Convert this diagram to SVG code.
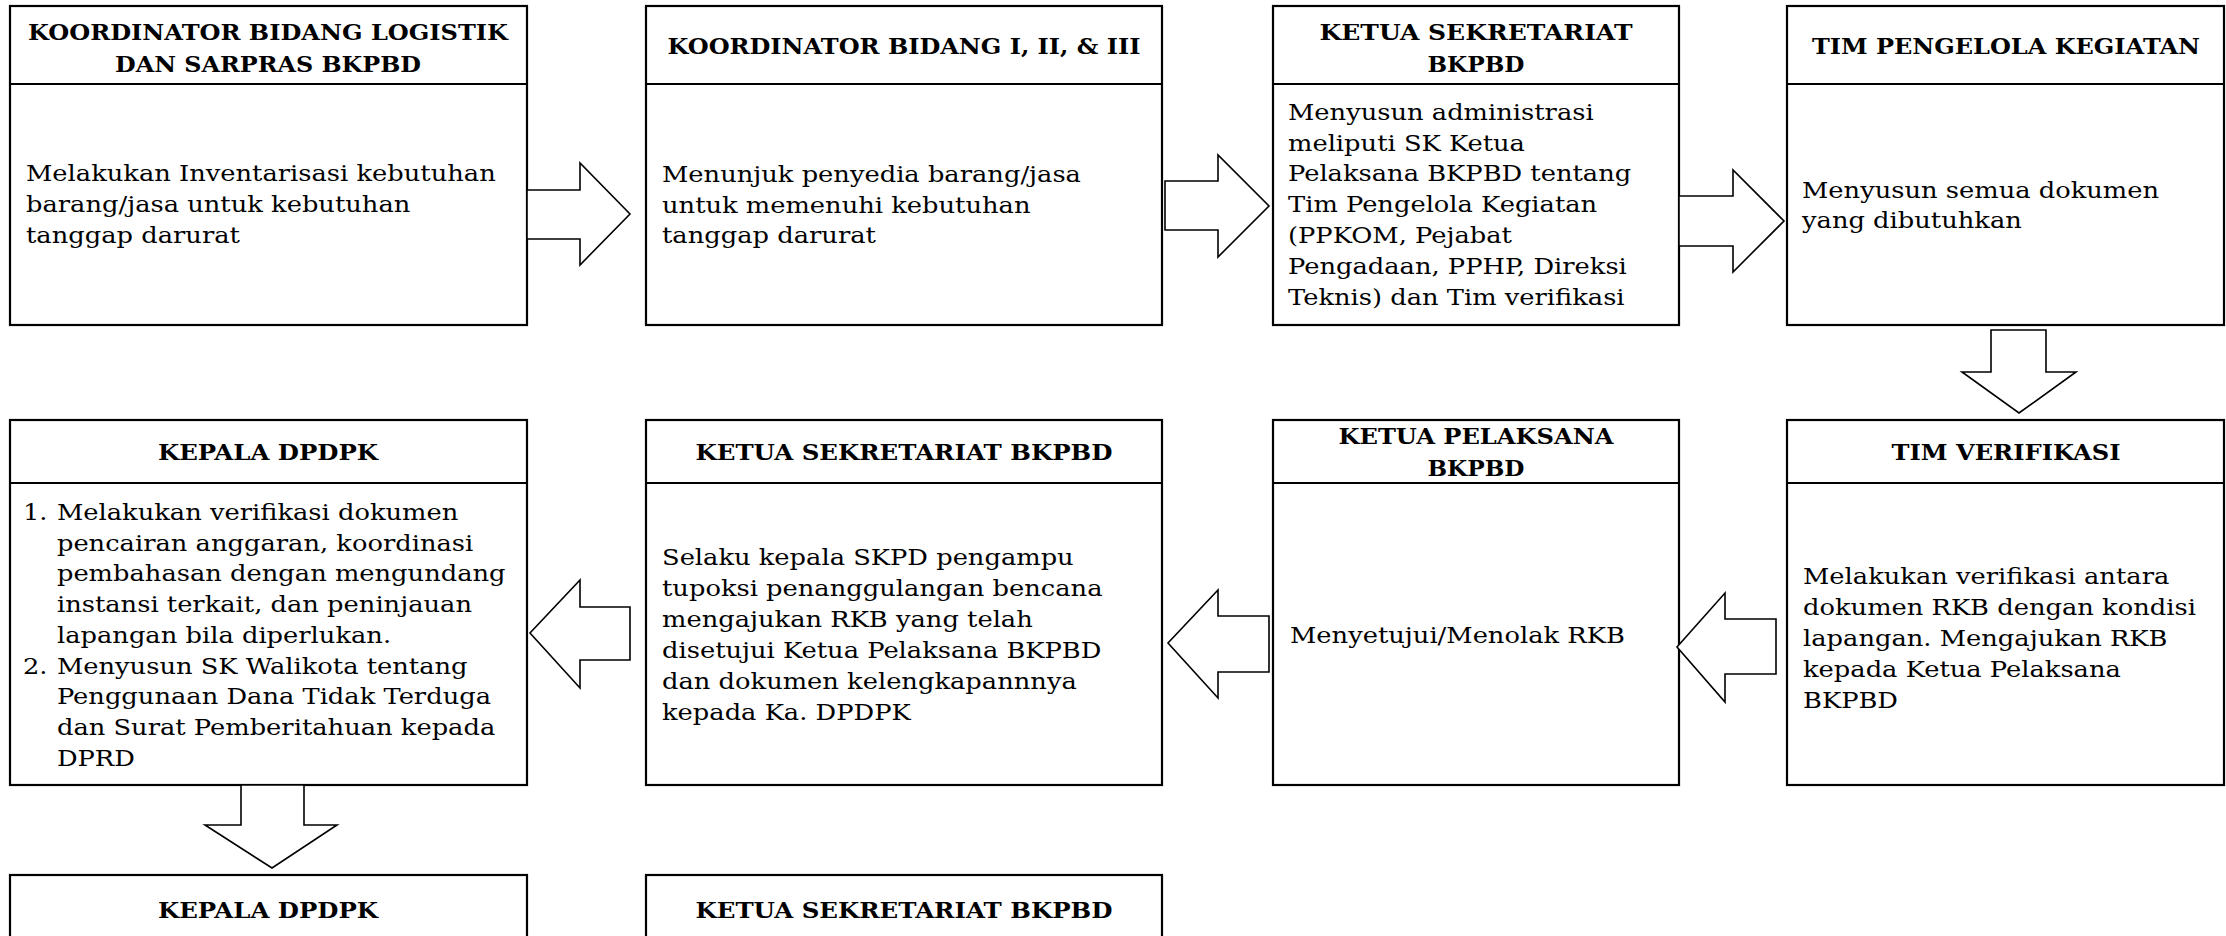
<svg xmlns="http://www.w3.org/2000/svg" width="2226" height="936" viewBox="0 0 2226 936">
<style>
.box{fill:#fff;stroke:#000;stroke-width:2.2}
.div{stroke:#000;stroke-width:2.2}
.arr{fill:#fff;stroke:#000;stroke-width:1.6;stroke-linejoin:miter}
.h{font-family:"DejaVu Serif","Liberation Serif",serif;font-weight:bold;font-size:23px;fill:#000;text-anchor:middle}
.b{font-family:"DejaVu Serif","Liberation Serif",serif;font-size:22px;fill:#000}
</style>
<rect width="2226" height="936" fill="#fff"/>

<g id="node-koordinator-logistik">
<rect class="box" x="10" y="6" width="517" height="319"/>
<line class="div" x1="10" y1="84" x2="527" y2="84"/>
<text class="h" x="268" y="40" textLength="480" lengthAdjust="spacingAndGlyphs">KOORDINATOR BIDANG LOGISTIK</text>
<text class="h" x="268" y="72" textLength="306" lengthAdjust="spacingAndGlyphs">DAN SARPRAS BKPBD</text>
<g transform="matrix(1.17 0 0 1 26 0)">
<text class="b"><tspan x="0" y="181">Melakukan Inventarisasi kebutuhan</tspan><tspan x="0" y="212">barang/jasa untuk kebutuhan</tspan><tspan x="0" y="243">tanggap darurat</tspan></text>
</g>
</g>

<g id="node-koordinator-bidang">
<rect class="box" x="646" y="6" width="516" height="319"/>
<line class="div" x1="646" y1="84" x2="1162" y2="84"/>
<text class="h" x="904" y="54" textLength="473" lengthAdjust="spacingAndGlyphs">KOORDINATOR BIDANG I, II, &amp; III</text>
<g transform="matrix(1.17 0 0 1 662 0)">
<text class="b"><tspan x="0" y="182">Menunjuk penyedia barang/jasa</tspan><tspan x="0" y="213">untuk memenuhi kebutuhan</tspan><tspan x="0" y="243">tanggap darurat</tspan></text>
</g>
</g>

<g id="node-ketua-sekretariat-1">
<rect class="box" x="1273" y="6" width="406" height="319"/>
<line class="div" x1="1273" y1="84" x2="1679" y2="84"/>
<text class="h" x="1476" y="40" textLength="313" lengthAdjust="spacingAndGlyphs">KETUA SEKRETARIAT</text>
<text class="h" x="1476" y="72" textLength="97" lengthAdjust="spacingAndGlyphs">BKPBD</text>
<g transform="matrix(1.17 0 0 1 1288 0)">
<text class="b"><tspan x="0" y="120">Menyusun administrasi</tspan><tspan x="0" y="151">meliputi SK Ketua</tspan><tspan x="0" y="181">Pelaksana BKPBD tentang</tspan><tspan x="0" y="212">Tim Pengelola Kegiatan</tspan><tspan x="0" y="243">(PPKOM, Pejabat</tspan><tspan x="0" y="274">Pengadaan, PPHP, Direksi</tspan><tspan x="0" y="305">Teknis) dan Tim verifikasi</tspan></text>
</g>
</g>

<g id="node-tim-pengelola">
<rect class="box" x="1787" y="6" width="437" height="319"/>
<line class="div" x1="1787" y1="84" x2="2224" y2="84"/>
<text class="h" x="2006" y="54" textLength="388" lengthAdjust="spacingAndGlyphs">TIM PENGELOLA KEGIATAN</text>
<g transform="matrix(1.17 0 0 1 1802 0)">
<text class="b"><tspan x="0" y="198">Menyusun semua dokumen</tspan><tspan x="0" y="228">yang dibutuhkan</tspan></text>
</g>
</g>

<g id="node-tim-verifikasi">
<rect class="box" x="1787" y="420" width="437" height="365"/>
<line class="div" x1="1787" y1="483" x2="2224" y2="483"/>
<text class="h" x="2006" y="460" textLength="229" lengthAdjust="spacingAndGlyphs">TIM VERIFIKASI</text>
<g transform="matrix(1.17 0 0 1 1803 0)">
<text class="b"><tspan x="0" y="584">Melakukan verifikasi antara</tspan><tspan x="0" y="615">dokumen RKB dengan kondisi</tspan><tspan x="0" y="646">lapangan. Mengajukan RKB</tspan><tspan x="0" y="677">kepada Ketua Pelaksana</tspan><tspan x="0" y="708">BKPBD</tspan></text>
</g>
</g>

<g id="node-ketua-pelaksana">
<rect class="box" x="1273" y="420" width="406" height="365"/>
<line class="div" x1="1273" y1="483" x2="1679" y2="483"/>
<text class="h" x="1476" y="444" textLength="275" lengthAdjust="spacingAndGlyphs">KETUA PELAKSANA</text>
<text class="h" x="1476" y="476" textLength="97" lengthAdjust="spacingAndGlyphs">BKPBD</text>
<g transform="matrix(1.17 0 0 1 1290 0)">
<text class="b" x="0" y="643">Menyetujui/Menolak RKB</text>
</g>
</g>

<g id="node-ketua-sekretariat-2">
<rect class="box" x="646" y="420" width="516" height="365"/>
<line class="div" x1="646" y1="483" x2="1162" y2="483"/>
<text class="h" x="904" y="460" textLength="417" lengthAdjust="spacingAndGlyphs">KETUA SEKRETARIAT BKPBD</text>
<g transform="matrix(1.17 0 0 1 662 0)">
<text class="b"><tspan x="0" y="565">Selaku kepala SKPD pengampu</tspan><tspan x="0" y="596">tupoksi penanggulangan bencana</tspan><tspan x="0" y="627">mengajukan RKB yang telah</tspan><tspan x="0" y="658">disetujui Ketua Pelaksana BKPBD</tspan><tspan x="0" y="689">dan dokumen kelengkapannnya</tspan><tspan x="0" y="720">kepada Ka. DPDPK</tspan></text>
</g>
</g>

<g id="node-kepala-dpdpk-1">
<rect class="box" x="10" y="420" width="517" height="365"/>
<line class="div" x1="10" y1="483" x2="527" y2="483"/>
<text class="h" x="268" y="460" textLength="220" lengthAdjust="spacingAndGlyphs">KEPALA DPDPK</text>
<g transform="matrix(1.17 0 0 1 23 0)">
<text class="b"><tspan x="0" y="520">1.</tspan><tspan x="0" y="674">2.</tspan></text>
<text class="b"><tspan x="29" y="520">Melakukan verifikasi dokumen</tspan><tspan x="29" y="551">pencairan anggaran, koordinasi</tspan><tspan x="29" y="581">pembahasan dengan mengundang</tspan><tspan x="29" y="612">instansi terkait, dan peninjauan</tspan><tspan x="29" y="643">lapangan bila diperlukan.</tspan><tspan x="29" y="674">Menyusun SK Walikota tentang</tspan><tspan x="29" y="704">Penggunaan Dana Tidak Terduga</tspan><tspan x="29" y="735">dan Surat Pemberitahuan kepada</tspan><tspan x="29" y="766">DPRD</tspan></text>
</g>
</g>

<g id="node-kepala-dpdpk-2">
<rect class="box" x="10" y="875" width="517" height="90"/>
<text class="h" x="268" y="918" textLength="220" lengthAdjust="spacingAndGlyphs">KEPALA DPDPK</text>
</g>

<g id="node-ketua-sekretariat-3">
<rect class="box" x="646" y="875" width="516" height="90"/>
<text class="h" x="904" y="918" textLength="417" lengthAdjust="spacingAndGlyphs">KETUA SEKRETARIAT BKPBD</text>
</g>

<g id="connectors">
<polygon class="arr" points="527,190 580,190 580,163 630,214 580,265 580,239 527,239"/>
<polygon class="arr" points="1165,181 1218,181 1218,155 1269,206 1218,257 1218,230 1165,230"/>
<polygon class="arr" points="1679,196 1733,196 1733,170 1784,221 1733,272 1733,246 1679,246"/>
<polygon class="arr" points="1991,330 2046,330 2046,372 2076,372 2019,413 1962,372 1991,372"/>
<polygon class="arr" points="1776,619 1725,619 1725,593 1677,647 1725,702 1725,674 1776,674"/>
<polygon class="arr" points="1269,616 1218,616 1218,590 1168,643 1218,698 1218,672 1269,672"/>
<polygon class="arr" points="630,607 580,607 580,580 530,633 580,688 580,660 630,660"/>
<polygon class="arr" points="241,785 304,785 304,825 337,825 272,868 205,825 241,825"/>
</g>
</svg>
